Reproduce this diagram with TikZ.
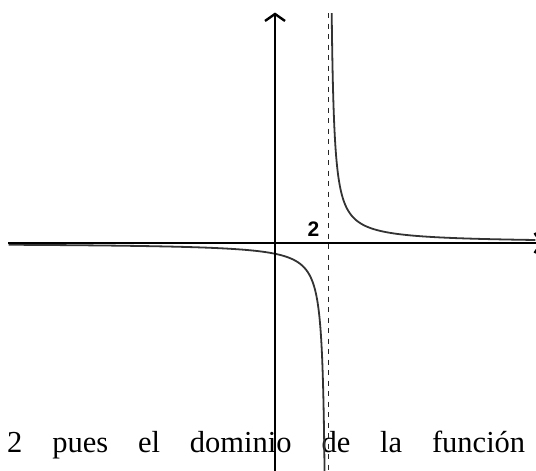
\documentclass[tikz,border=0pt]{standalone}
\usepackage{fontspec}
\setmainfont{Liberation Serif}
\newfontfamily\labelfont{Liberation Sans}
\usetikzlibrary{arrows.meta}
\begin{document}
\begin{tikzpicture}[x=1pt,y=-1pt,
  axisline/.style={line width=2.8pt, black, -{Straight Barb[length=7pt,width=20pt,line width=2.4pt]}},
  asym/.style={line width=1.5pt, black!85, dash pattern=on 5pt off 5.5pt},
  curveline/.style={line width=1.8pt, black!80},
  ticklabel/.style={font=\labelfont\bfseries\fontsize{21}{21}\selectfont, inner sep=0},
  bodytext/.style={anchor=base west, inner sep=0, font=\fontsize{30.5}{36}\selectfont}]
\useasboundingbox (0,0) rectangle (536,471);
\clip (0,0) rectangle (536,471);
\node[bodytext] (txt) at (7,452) {\makebox[518pt][s]{2 pues el dominio de la función}};
\coordinate (ytop) at (275,12.5);
\coordinate (ybot) at (275,471);
\coordinate (xl) at (8,243);
\coordinate (xr) at (543,243);
\coordinate (atop) at (328.3,13);
\coordinate (abot) at (328.3,471);
\draw[asym] (atop) -- (abot);
\draw[curveline] plot[domain=0.565:5.43, samples=160, variable=\s, smooth] ({327-560/exp(\s)}, {243+exp(\s)});
\draw[curveline] plot[domain=1.1:5.44, samples=160, variable=\s, smooth] ({329+620/exp(\s)}, {243-exp(\s)});
\draw[axisline] (ybot) -- (ytop);
\draw[axisline] (xl) -- (xr);
\node[ticklabel] (two) at (313.5,229.5) {2};
\end{tikzpicture}
\end{document}
